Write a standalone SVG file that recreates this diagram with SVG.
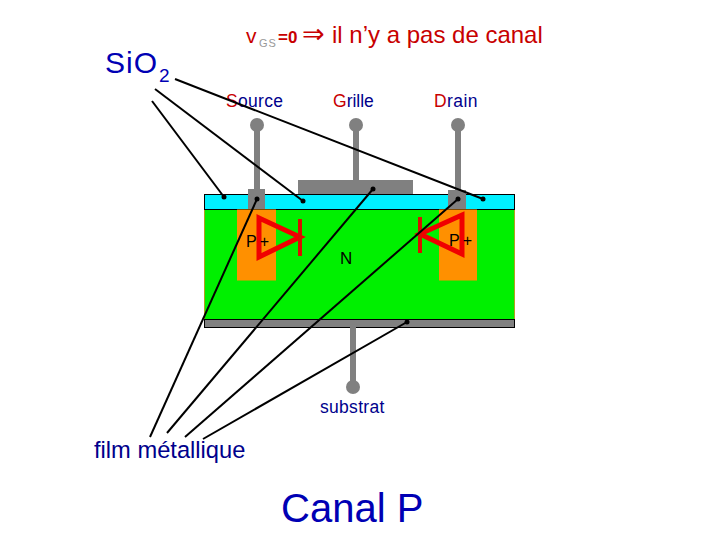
<svg xmlns="http://www.w3.org/2000/svg" width="720" height="540" viewBox="0 0 720 540">
<style>
text{font-family:"Liberation Sans",Arial,sans-serif}
.blue{fill:#0000b4}.navy{fill:#00008c}.red{fill:#c80000}
.term{fill:#808080}
.lead{stroke:#000;stroke-width:2;fill:none}
.dot{fill:#000}
.tri{fill:none;stroke:#f00000;stroke-width:5}
.bar{stroke:#d81000;stroke-width:4}
.lab{font-size:17.500px}
.dop{font-size:16px;letter-spacing:3px}
</style>
<rect width="720" height="540" fill="#fff"/>
<g id="title"><text y="43" class="red" font-size="24"><tspan x="246" font-size="21">v</tspan><tspan x="259" dy="4" font-size="11" letter-spacing="1" fill="#999">GS</tspan><tspan x="278" dy="-4" font-size="17" font-weight="bold">=0</tspan><tspan x="302" font-family="'DejaVu Sans',sans-serif" font-size="27">⇒</tspan><tspan x="332">il n’y a pas de canal</tspan></text></g>
<g id="sio2"><text x="105" y="73" font-size="30" class="blue" letter-spacing="1">SiO<tspan font-size="19" dy="9" dx="1">2</tspan></text></g>
<g id="device">
<rect x="204.500" y="209" width="310" height="111" fill="#00f000" stroke="#b0a020" stroke-width="1"/>
<rect x="204.500" y="194.500" width="310" height="15" fill="#00f0ff" stroke="#000" stroke-width="1"/>
<rect x="237" y="209.500" width="39" height="71" fill="#ff9000"/>
<rect x="439" y="209.500" width="38" height="71" fill="#ff9000"/>
<rect x="204.500" y="319.500" width="310" height="8" fill="#808080" stroke="#000" stroke-width="1"/>
</g>
<g id="source"><rect x="254" y="125" width="6" height="65" class="term"/><circle cx="257" cy="125" r="7" class="term"/><rect x="248" y="189" width="17" height="20" class="term"/><text x="226" y="107" class="lab" letter-spacing=".3"><tspan class="red">S</tspan><tspan class="navy">ource</tspan></text></g>
<g id="grille"><rect x="353" y="125" width="6" height="56" class="term"/><circle cx="356" cy="125" r="7" class="term"/><rect x="298" y="180" width="115" height="14" class="term"/><text x="333" y="107" class="lab"><tspan class="red">G</tspan><tspan class="navy">rille</tspan></text></g>
<g id="drain"><rect x="455" y="125" width="6" height="66" class="term"/><circle cx="458" cy="125" r="7" class="term"/><rect x="448" y="190" width="18" height="19" class="term"/><text x="434" y="107" class="lab" letter-spacing=".4"><tspan class="red">D</tspan><tspan class="navy">rain</tspan></text></g>
<g id="substrat"><rect x="350" y="327" width="6" height="60" class="term"/><circle cx="353" cy="387" r="7" class="term"/><text x="320" y="413" class="lab navy" letter-spacing=".3">substrat</text></g>
<g id="diode-left"><polygon points="259,218 300,237 259,257" class="tri"/><line x1="300" y1="219" x2="300" y2="256" class="bar"/><text x="246" y="247" class="dop">P+</text></g>
<g id="diode-right"><polygon points="462,215 420,234 462,254" class="tri"/><line x1="420" y1="217" x2="420" y2="253" class="bar"/><text x="449" y="246" class="dop">P+</text></g>
<g id="n"><text x="340" y="264" font-size="17">N</text></g>
<g id="connectors">
<line x1="175" y1="79" x2="483" y2="199" class="lead"/><circle cx="483" cy="199" r="2.500" class="dot"/>
<line x1="155" y1="89" x2="303" y2="201" class="lead"/><circle cx="303" cy="201" r="2.500" class="dot"/>
<line x1="152" y1="101" x2="224" y2="197" class="lead"/><circle cx="224" cy="197" r="2.500" class="dot"/>
<line x1="150" y1="437" x2="257" y2="199" class="lead"/><circle cx="257" cy="199" r="2.500" class="dot"/>
<line x1="167" y1="433" x2="373" y2="189" class="lead"/><circle cx="373" cy="189" r="2.500" class="dot"/>
<line x1="185" y1="437" x2="458" y2="199" class="lead"/><circle cx="458" cy="199" r="2.500" class="dot"/>
<line x1="203" y1="439" x2="407" y2="322" class="lead"/><circle cx="407" cy="322" r="2.500" class="dot"/>
</g>
<g id="film"><text x="94" y="458" font-size="23.700" class="navy">film métallique</text></g>
<g id="caption"><text x="281" y="522" font-size="40" class="blue">Canal P</text></g>
</svg>
